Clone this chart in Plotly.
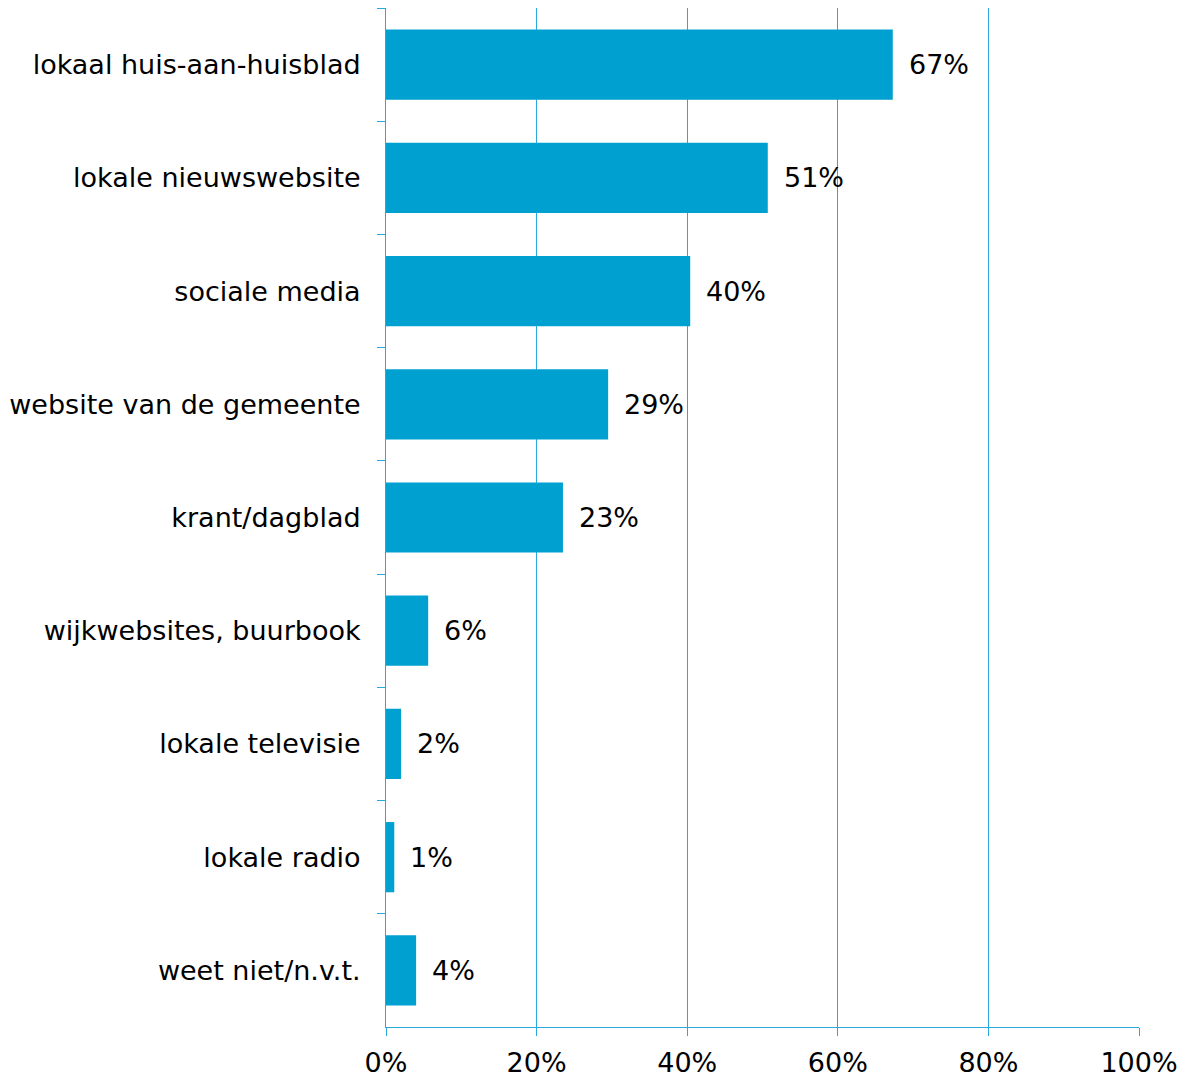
import plotly.graph_objects as go

categories = ["lokaal huis-aan-huisblad", "lokale nieuwswebsite", "sociale media",
              "website van de gemeente", "krant/dagblad", "wijkwebsites, buurbook",
              "lokale televisie", "lokale radio", "weet niet/n.v.t."]
values = [67.3, 50.7, 40.4, 29.5, 23.5, 5.6, 2.0, 1.1, 4.0]
labels = ["67%", "51%", "40%", "29%", "23%", "6%", "2%", "1%", "4%"]
x_ticks = [0, 20, 40, 60, 80, 100]
x_tick_labels = ["0%", "20%", "40%", "60%", "80%", "100%"]

bar_color = "#00A1D1"
line_color = "#2AA8DC"
font = "DejaVu Sans, Verdana, sans-serif"
fsize = 27

fig = go.Figure()
fig.add_trace(go.Bar(
    x=values, y=categories, orientation="h",
    marker=dict(color=bar_color, line=dict(width=0)),
    hoverinfo="skip",
))
for c, v, t in zip(categories, values, labels):
    fig.add_annotation(x=v, y=c, text=t, showarrow=False, xanchor="left",
                       xshift=14, font=dict(family=font, size=fsize, color="#000"))

fig.update_layout(
    width=1198, height=1078,
    margin=dict(l=386, r=59, t=8, b=51),
    plot_bgcolor="white", paper_bgcolor="white",
    bargap=0.38, showlegend=False,
    font=dict(family=font, size=fsize, color="#000"),
)
fig.update_xaxes(
    range=[0, 100], tickvals=x_ticks, ticktext=x_tick_labels,
    showgrid=True, gridcolor=line_color, gridwidth=1,
    showline=True, linecolor=line_color, linewidth=1,
    ticks="outside", ticklen=8, tickcolor=line_color,
    zeroline=False, mirror=False, ticklabelstandoff=4, automargin=False,
    tickfont=dict(family=font, size=fsize, color="#000"),
)
fig.update_yaxes(
    categoryorder="array", categoryarray=categories, autorange="reversed",
    showline=True, linecolor=line_color, linewidth=1,
    ticks="outside", ticklen=8, tickcolor=line_color, tickson="boundaries",
    showgrid=False, ticklabelstandoff=19, automargin=False,
    tickfont=dict(family=font, size=fsize, color="#000"),
)
fig.write_html("out.html")
